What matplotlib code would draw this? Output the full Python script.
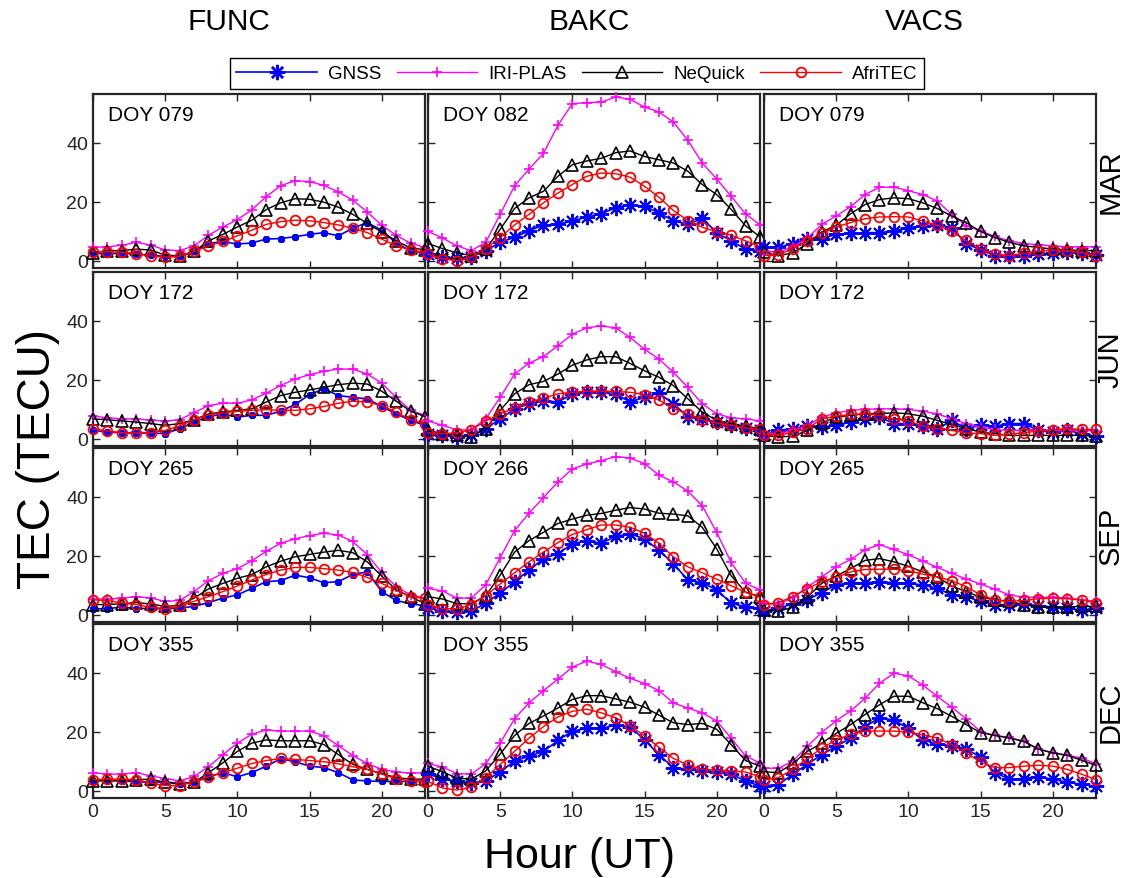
import matplotlib
matplotlib.use("Agg")
import matplotlib.pyplot as plt

plt.rcParams['font.family'] = ['Liberation Sans', 'DejaVu Sans']

hours = list(range(24))
stations = ['FUNC', 'BAKC', 'VACS']
months = ['MAR', 'JUN', 'SEP', 'DEC']
doys = [['DOY 079', 'DOY 082', 'DOY 079'],
        ['DOY 172', 'DOY 172', 'DOY 172'],
        ['DOY 265', 'DOY 266', 'DOY 265'],
        ['DOY 355', 'DOY 355', 'DOY 355']]
series_names = ['GNSS', 'IRI-PLAS', 'NeQuick', 'AfriTEC']

## --- FUNC ---
func_mar_gnss = [2.6, 2.2, 2.6, 2.2, 1.9, 1.4, 1.4, 3.1, 5.8, 6.5, 5.6, 6.0, 7.3, 7.5, 8.1, 8.9, 9.5, 8.4, 11.0, 12.9, 10.3, 5.9, 3.4, 2.6]
func_mar_iri = [4.5, 4.7, 5.2, 6.2, 5.3, 3.6, 3.4, 5.0, 8.6, 11.4, 13.9, 17.2, 21.7, 25.4, 27.1, 26.8, 25.5, 23.3, 20.5, 16.5, 12.0, 8.6, 5.9, 4.5]
func_mar_neq = [2.6, 3.4, 3.4, 3.9, 3.6, 1.9, 1.6, 3.1, 6.7, 8.9, 11.4, 13.7, 17.3, 19.6, 21.0, 20.8, 19.8, 18.1, 15.7, 12.6, 9.7, 6.7, 4.3, 3.7]
func_mar_afr = [3.0, 3.0, 2.8, 2.4, 1.6, 1.2, 1.5, 3.1, 4.9, 6.5, 8.4, 10.3, 12.3, 13.2, 13.7, 13.5, 12.9, 12.1, 11.0, 9.5, 7.3, 5.0, 3.6, 2.8]

func_jun_gnss = [2.8, 2.2, 2.0, 1.9, 1.9, 1.7, 3.4, 5.6, 7.5, 8.4, 7.3, 7.9, 7.9, 9.3, 11.6, 14.9, 16.9, 14.6, 14.0, 13.5, 10.9, 8.4, 6.2, 4.5]
func_jun_iri = [7.6, 7.1, 6.7, 6.7, 6.2, 6.0, 6.4, 8.8, 11.2, 12.0, 12.0, 13.1, 15.4, 18.0, 20.2, 21.7, 22.8, 23.6, 23.6, 21.9, 18.8, 14.0, 9.6, 7.9]
func_jun_neq = [6.7, 6.4, 6.0, 5.6, 5.1, 4.5, 5.1, 6.4, 8.4, 9.0, 9.6, 10.1, 12.4, 14.6, 15.7, 16.5, 17.4, 18.3, 18.8, 18.5, 16.1, 12.7, 9.3, 7.5]
func_jun_afr = [3.4, 2.6, 2.0, 1.9, 2.0, 2.8, 4.3, 6.4, 8.1, 8.8, 9.2, 9.6, 9.8, 9.6, 9.6, 10.1, 10.9, 12.0, 12.7, 12.4, 11.2, 9.0, 6.4, 5.1]

func_sep_gnss = [2.0, 2.0, 2.6, 2.0, 2.2, 2.0, 2.2, 2.8, 4.1, 5.6, 6.7, 8.9, 11.2, 11.5, 13.4, 12.5, 10.8, 11.2, 13.6, 14.5, 7.8, 4.8, 3.7, 3.0]
func_sep_iri = [5.3, 5.3, 5.6, 6.1, 5.6, 4.5, 4.8, 7.8, 11.5, 14.0, 15.6, 18.2, 21.5, 24.2, 25.7, 26.8, 27.6, 27.0, 24.8, 20.3, 14.3, 9.5, 6.7, 5.5]
func_sep_neq = [3.4, 3.4, 3.7, 4.1, 3.6, 2.8, 3.1, 5.6, 8.7, 10.6, 12.3, 13.6, 16.2, 18.1, 19.6, 20.4, 21.2, 21.8, 21.0, 17.9, 13.1, 8.4, 6.1, 3.7]
func_sep_afr = [5.0, 4.8, 3.9, 3.4, 2.5, 2.0, 2.8, 4.5, 6.1, 7.8, 9.7, 11.7, 13.6, 15.1, 16.0, 16.0, 15.6, 15.1, 14.3, 12.6, 10.6, 8.2, 6.1, 5.6]

func_dec_gnss = [3.3, 3.7, 3.3, 3.0, 2.8, 3.0, 2.4, 2.8, 4.7, 6.1, 4.7, 6.1, 8.3, 10.8, 9.8, 8.3, 7.8, 6.1, 3.6, 3.3, 3.1, 3.1, 3.1, 3.3]
func_dec_iri = [6.1, 5.6, 5.6, 6.1, 5.0, 4.1, 3.3, 4.8, 8.1, 12.2, 16.1, 19.1, 20.6, 20.2, 20.2, 20.2, 18.6, 15.2, 11.9, 9.2, 7.2, 6.4, 5.9, 6.1]
func_dec_neq = [3.3, 3.3, 3.3, 3.7, 3.9, 2.8, 2.2, 2.8, 6.1, 9.4, 13.3, 16.1, 17.2, 16.9, 16.9, 16.9, 15.6, 12.2, 8.9, 7.2, 5.8, 4.4, 3.9, 3.9]
func_dec_afr = [3.7, 3.9, 3.9, 3.7, 2.6, 1.7, 1.7, 3.0, 4.7, 6.1, 7.6, 9.2, 10.2, 10.9, 10.6, 10.2, 9.8, 9.1, 8.1, 7.2, 5.6, 4.1, 3.3, 2.8]

## --- BAKC ---
bakc_mar_gnss = [2.4, 1.2, 0.9, 1.2, 3.4, 6.2, 7.9, 10.1, 12.1, 12.3, 13.5, 14.7, 15.9, 17.9, 19.0, 18.4, 16.2, 13.5, 12.3, 14.3, 9.5, 6.7, 3.9, 3.4]
bakc_mar_iri = [9.9, 7.7, 5.0, 3.4, 6.2, 15.7, 25.4, 31.0, 36.4, 45.9, 53.2, 53.6, 53.7, 55.5, 54.7, 52.1, 50.4, 47.0, 40.8, 33.1, 27.7, 21.8, 15.9, 12.1]
bakc_mar_neq = [5.8, 4.1, 2.6, 1.7, 3.9, 10.6, 17.7, 21.3, 23.5, 28.6, 32.5, 33.8, 34.7, 36.6, 37.2, 35.3, 34.2, 33.1, 30.3, 25.8, 22.4, 17.4, 11.8, 8.1]
bakc_mar_afr = [2.2, 0.6, 0.0, 1.1, 4.1, 7.8, 12.1, 15.7, 19.6, 22.9, 25.8, 28.6, 29.7, 29.5, 28.3, 25.2, 21.5, 17.0, 13.6, 11.3, 9.8, 8.6, 6.7, 4.7]

bakc_jun_gnss = [1.7, 1.1, 0.6, 1.1, 3.4, 6.7, 10.1, 11.8, 12.9, 12.4, 15.2, 15.7, 15.7, 15.2, 12.4, 14.0, 15.4, 11.8, 7.5, 6.7, 5.6, 4.5, 3.6, 2.8]
bakc_jun_iri = [6.0, 4.5, 3.0, 3.0, 6.7, 14.0, 21.9, 25.6, 27.8, 31.5, 35.4, 37.6, 38.2, 37.6, 34.3, 30.3, 27.0, 22.5, 17.4, 11.8, 8.4, 7.1, 6.7, 6.0]
bakc_jun_neq = [2.8, 1.7, 1.1, 0.6, 3.4, 9.6, 15.2, 18.3, 19.4, 21.9, 24.9, 26.7, 27.8, 27.8, 25.5, 23.0, 20.8, 18.0, 13.5, 9.0, 6.2, 5.1, 4.2, 3.4]
bakc_jun_afr = [2.0, 1.7, 1.9, 3.0, 6.0, 8.4, 10.4, 12.4, 13.7, 15.2, 15.7, 16.1, 16.1, 16.0, 15.7, 14.9, 13.1, 10.1, 8.4, 6.4, 5.3, 4.5, 3.6, 3.1]

bakc_sep_gnss = [2.2, 1.1, 0.9, 1.1, 3.9, 7.3, 11.2, 15.1, 19.0, 20.7, 24.0, 25.1, 24.2, 26.5, 27.4, 25.7, 21.8, 17.3, 11.7, 10.8, 8.4, 3.9, 2.6, 2.2]
bakc_sep_iri = [8.9, 8.0, 5.6, 5.6, 10.1, 19.3, 28.5, 34.4, 39.7, 45.0, 49.4, 51.1, 52.2, 53.6, 53.1, 51.2, 47.3, 45.0, 41.9, 36.9, 27.9, 17.7, 10.6, 8.4]
bakc_sep_neq = [6.1, 5.3, 3.7, 3.7, 6.4, 13.4, 21.2, 25.1, 27.9, 30.9, 32.4, 33.7, 34.3, 35.4, 36.3, 35.8, 34.4, 34.1, 33.5, 29.6, 22.3, 13.2, 7.6, 6.1]
bakc_sep_afr = [3.4, 2.0, 2.0, 3.4, 6.4, 10.4, 14.2, 17.9, 21.2, 24.4, 27.2, 28.8, 30.4, 30.4, 29.6, 27.6, 24.2, 19.6, 16.2, 14.2, 12.0, 9.8, 7.6, 5.9]

bakc_dec_gnss = [5.6, 4.1, 3.1, 2.6, 3.3, 6.4, 10.0, 11.7, 13.3, 17.0, 20.2, 21.1, 21.1, 22.2, 21.7, 17.2, 12.2, 7.8, 7.2, 6.7, 6.4, 5.8, 3.1, 1.7]
bakc_dec_iri = [9.2, 8.0, 5.8, 5.6, 9.1, 16.1, 24.4, 29.8, 33.9, 37.8, 41.9, 43.9, 42.8, 40.3, 38.1, 36.3, 33.9, 29.7, 28.0, 26.4, 23.6, 17.8, 11.7, 9.4]
bakc_dec_neq = [8.3, 6.4, 4.2, 3.9, 6.7, 12.4, 18.7, 22.8, 25.3, 28.0, 30.9, 32.2, 32.2, 31.1, 30.0, 28.3, 25.6, 23.0, 22.4, 22.8, 20.8, 15.6, 10.2, 8.3]
bakc_dec_afr = [3.1, 0.9, 0.2, 1.1, 4.4, 8.9, 13.3, 17.8, 21.7, 25.0, 26.9, 27.6, 26.4, 24.7, 22.0, 18.6, 14.7, 10.9, 8.7, 7.2, 7.0, 6.7, 6.3, 4.7]

## --- VACS ---
vacs_mar_gnss = [4.7, 4.5, 5.8, 7.3, 7.3, 9.0, 9.2, 9.5, 9.5, 10.1, 11.2, 11.8, 12.1, 11.2, 5.8, 3.6, 1.7, 1.7, 1.7, 2.2, 2.6, 2.8, 2.5, 2.0]
vacs_mar_iri = [3.4, 2.8, 4.7, 7.6, 12.3, 15.1, 18.3, 22.4, 24.9, 24.9, 23.7, 22.4, 20.2, 15.7, 11.8, 10.1, 8.2, 6.7, 5.8, 5.4, 5.0, 4.7, 4.7, 4.7]
vacs_mar_neq = [2.8, 1.7, 2.6, 5.8, 9.7, 12.0, 15.9, 19.0, 20.7, 21.3, 21.0, 19.6, 17.7, 15.1, 12.9, 9.9, 7.8, 6.2, 5.0, 4.5, 3.9, 3.7, 3.4, 3.4]
vacs_mar_afr = [1.7, 1.9, 4.1, 6.7, 9.3, 11.4, 12.9, 14.2, 14.8, 14.9, 14.8, 13.4, 12.0, 9.9, 6.9, 3.9, 2.2, 1.7, 2.5, 3.1, 3.6, 3.4, 2.8, 1.7]

vacs_jun_gnss = [1.1, 2.8, 3.4, 4.2, 3.9, 4.5, 5.6, 6.7, 7.3, 5.1, 5.1, 4.2, 3.1, 6.2, 3.4, 4.5, 4.2, 5.1, 5.1, 2.8, 2.2, 2.8, 1.7, 0.8]
vacs_jun_iri = [1.7, 1.7, 2.8, 4.5, 7.3, 8.7, 9.6, 9.9, 10.1, 10.1, 9.9, 9.3, 8.4, 6.7, 5.1, 3.9, 3.1, 2.8, 2.8, 2.8, 2.8, 2.8, 2.8, 2.6]
vacs_jun_neq = [1.1, 0.6, 0.8, 2.8, 5.3, 7.3, 7.9, 8.4, 8.4, 8.8, 8.4, 7.6, 6.2, 4.8, 3.4, 2.2, 1.7, 1.1, 1.1, 1.1, 1.1, 1.1, 1.1, 0.8]
vacs_jun_afr = [1.3, 1.1, 2.2, 3.4, 6.7, 7.6, 8.2, 8.4, 7.9, 6.7, 6.0, 4.3, 3.4, 2.8, 1.9, 1.7, 1.1, 1.5, 2.0, 2.6, 3.0, 3.4, 3.1, 3.1]

vacs_sep_gnss = [1.1, 2.2, 3.6, 5.0, 7.5, 10.1, 10.8, 10.8, 11.2, 10.8, 10.6, 10.1, 8.9, 6.7, 6.1, 4.5, 3.4, 3.4, 3.7, 3.0, 2.6, 2.2, 1.5, 2.2]
vacs_sep_iri = [3.9, 3.4, 5.9, 9.3, 12.8, 16.2, 18.7, 22.0, 23.7, 22.1, 20.3, 18.2, 16.0, 14.0, 12.1, 10.4, 8.6, 6.7, 5.9, 5.9, 5.9, 5.6, 5.0, 4.5]
vacs_sep_neq = [1.7, 1.1, 2.5, 5.9, 10.6, 13.1, 15.6, 18.4, 19.0, 17.9, 16.4, 14.5, 12.8, 9.7, 7.8, 5.9, 5.0, 4.5, 3.4, 2.6, 2.6, 2.6, 2.8, 2.8]
vacs_sep_afr = [3.4, 4.1, 6.1, 8.7, 11.2, 12.6, 14.5, 15.3, 15.4, 15.4, 14.9, 13.7, 12.8, 11.5, 9.5, 6.7, 5.0, 4.5, 4.8, 5.4, 5.6, 5.4, 5.0, 3.9]

vacs_dec_gnss = [1.7, 2.0, 5.6, 8.9, 12.2, 15.0, 17.8, 21.7, 24.7, 23.9, 21.1, 17.2, 15.8, 15.2, 14.2, 11.3, 6.1, 3.9, 4.1, 4.7, 3.9, 2.8, 2.2, 1.4]
vacs_dec_iri = [7.6, 7.6, 10.0, 15.0, 19.7, 23.7, 27.0, 31.3, 36.4, 39.8, 38.9, 35.8, 32.0, 28.3, 24.4, 20.0, 18.7, 18.1, 16.7, 14.1, 12.8, 12.0, 11.1, 9.1]
vacs_dec_neq = [6.4, 6.1, 9.2, 13.3, 16.1, 19.4, 22.4, 25.8, 29.1, 32.0, 32.0, 29.8, 27.8, 25.2, 22.4, 19.7, 18.7, 17.8, 16.7, 14.1, 12.8, 12.0, 10.3, 8.6]
vacs_dec_afr = [3.6, 4.4, 7.2, 10.9, 14.4, 17.2, 19.1, 20.2, 20.2, 20.2, 19.8, 18.9, 17.8, 15.6, 12.8, 9.7, 7.8, 7.8, 8.3, 8.6, 8.3, 7.2, 5.6, 3.7]

data = {
    ('FUNC', 'MAR'): [func_mar_gnss, func_mar_iri, func_mar_neq, func_mar_afr],
    ('FUNC', 'JUN'): [func_jun_gnss, func_jun_iri, func_jun_neq, func_jun_afr],
    ('FUNC', 'SEP'): [func_sep_gnss, func_sep_iri, func_sep_neq, func_sep_afr],
    ('FUNC', 'DEC'): [func_dec_gnss, func_dec_iri, func_dec_neq, func_dec_afr],
    ('BAKC', 'MAR'): [bakc_mar_gnss, bakc_mar_iri, bakc_mar_neq, bakc_mar_afr],
    ('BAKC', 'JUN'): [bakc_jun_gnss, bakc_jun_iri, bakc_jun_neq, bakc_jun_afr],
    ('BAKC', 'SEP'): [bakc_sep_gnss, bakc_sep_iri, bakc_sep_neq, bakc_sep_afr],
    ('BAKC', 'DEC'): [bakc_dec_gnss, bakc_dec_iri, bakc_dec_neq, bakc_dec_afr],
    ('VACS', 'MAR'): [vacs_mar_gnss, vacs_mar_iri, vacs_mar_neq, vacs_mar_afr],
    ('VACS', 'JUN'): [vacs_jun_gnss, vacs_jun_iri, vacs_jun_neq, vacs_jun_afr],
    ('VACS', 'SEP'): [vacs_sep_gnss, vacs_sep_iri, vacs_sep_neq, vacs_sep_afr],
    ('VACS', 'DEC'): [vacs_dec_gnss, vacs_dec_iri, vacs_dec_neq, vacs_dec_afr],
}

W, H = 1125, 879
fig = plt.figure(figsize=(W / 100, H / 100), dpi=100)

col_left = [93, 428, 764]
col_w = 332
row_top = [95, 273, 449, 625]
row_h = 174
axcol = '#262626'

star = (8, 2, 0)
handles = None
for r, month in enumerate(months):
    for c, st in enumerate(stations):
        ax = fig.add_axes([col_left[c] / W, 1 - (row_top[r] + row_h) / H, col_w / W, row_h / H])
        gnss, iri, neq, afr = data[(st, month)]
        gsize = 5 if c == 0 else 11
        gmew = 1.8 if c == 0 else 1.4
        l1, = ax.plot(hours, gnss, color='#0000ff', marker=star, ms=gsize, mew=gmew, lw=1.2, clip_on=False, zorder=3)
        l2, = ax.plot(hours, iri, color='#ff00ff', marker='+', ms=7, mew=1.2, lw=1.0, clip_on=False, zorder=4)
        l3, = ax.plot(hours, neq, color='black', marker='^', ms=8, mfc='none', mew=1.2, lw=1.0, clip_on=False, zorder=5)
        l4, = ax.plot(hours, afr, color='#ff0000', marker='o', ms=7, mfc='none', mew=1.3, lw=1.0, clip_on=False, zorder=6)
        if handles is None:
            handles = [l1, l2, l3, l4]
        ax.set_xlim(0, 23)
        ax.set_ylim(-2.5, 56.5)
        ax.set_xticks([0, 5, 10, 15, 20])
        ax.set_yticks([0, 20, 40])
        ax.tick_params(direction='in', top=True, right=True, length=5, width=1.0,
                       labelsize=14, colors=axcol)
        if r != 3:
            ax.set_xticklabels([])
        if c != 0:
            ax.set_yticklabels([])
        for s in ax.spines.values():
            s.set_linewidth(1.6)
            s.set_color(axcol)
        ax.text(0.045, 0.885, doys[r][c], transform=ax.transAxes, fontsize=15, va='center', ha='left')
        if c == 2:
            ax.text(1.045, 0.5, month, transform=ax.transAxes, rotation=90, fontsize=21,
                    va='center', ha='center')

# column titles
for x, st in zip([229, 589, 924], stations):
    fig.text(x / W, 1 - 22 / H, st, fontsize=21.5, ha='center', va='center')

fig.text(38 / W, 1 - 459 / H, 'TEC (TECU)', rotation=90, fontsize=33, ha='center', va='center')
fig.text(579 / W, 1 - 857 / H, 'Hour (UT)', fontsize=31, ha='center', va='center')

leg = fig.legend(handles, series_names, loc='center', bbox_to_anchor=(577 / W, 1 - 74.5 / H),
                 ncol=4, fontsize=13.5, handlelength=4.3, handletextpad=0.6, columnspacing=0.8,
                 numpoints=1, fancybox=False, framealpha=1, borderpad=0.35)
leg.get_frame().set_edgecolor('black')
leg.get_frame().set_linewidth(1.0)
leg.legend_handles[0].set_markersize(11)

fig.savefig('out.png', dpi=100)
